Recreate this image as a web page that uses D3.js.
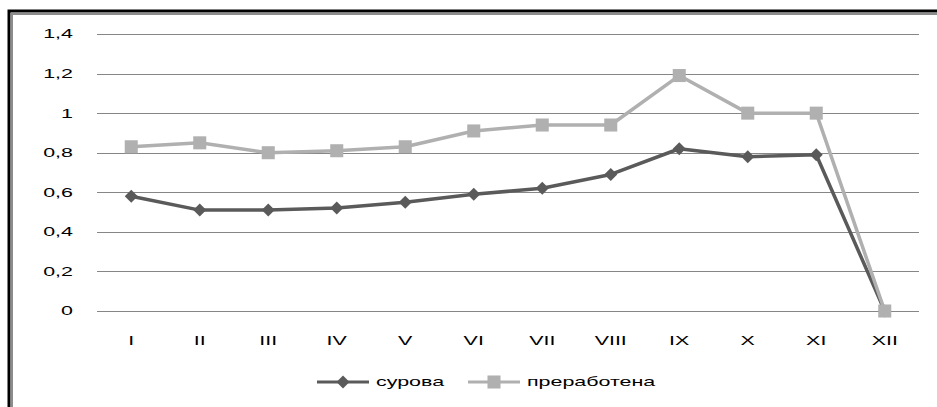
<!DOCTYPE html>
<html><head><meta charset="utf-8">
<script src="https://cdn.jsdelivr.net/npm/d3@7"></script>
<style>html,body{margin:0;padding:0;background:#fff;}svg{display:block;}</style>
</head><body>
<svg id="c" width="937" height="407"></svg>
<script>
const categories = ["I","II","III","IV","V","VI","VII","VIII","IX","X","XI","XII"];
const surova = [0.58,0.51,0.51,0.52,0.55,0.59,0.62,0.69,0.82,0.78,0.79,0];
const prerabotena = [0.83,0.85,0.80,0.81,0.83,0.91,0.94,0.94,1.19,1.0,1.0,0];
const yTicks = [0,0.2,0.4,0.6,0.8,1.0,1.2,1.4];
const seriesNames = ["сурова","преработена"];

const svg = d3.select("#c");
const SX = 1.65;
const font = "'Liberation Sans', Arial, sans-serif";
const fmt = v => d3.format(".1f")(v).replace(".", ",").replace(/,0$/, "");

// border (cropped frame)
svg.append("rect").attr("x",9).attr("y",11).attr("width",1000).attr("height",1000)
  .attr("fill","none").attr("stroke","#000").attr("stroke-width",3);
svg.append("rect").attr("x",12).attr("y",14).attr("width",1000).attr("height",1000)
  .attr("fill","none").attr("stroke","#8c8c8c").attr("stroke-width",2);

const x = d3.scaleBand().domain(categories).range([97,919]);
const y = d3.scaleLinear().domain([0,1.4]).range([311,34]);

// gridlines
svg.append("g").selectAll("line").data(yTicks).join("line")
  .attr("x1",97).attr("x2",919)
  .attr("y1",d=>Math.round(y(d))+0.5).attr("y2",d=>Math.round(y(d))+0.5)
  .attr("stroke","#868686").attr("stroke-width",1);

function stext(g, tx, ty, str, anchor, size){
  g.append("text").attr("transform",`translate(${tx},${ty}) scale(${SX},1)`)
   .attr("text-anchor",anchor).attr("dominant-baseline","central")
   .attr("font-family",font).attr("font-size",size).attr("fill","#000").text(str);
}
const lab = svg.append("g");
yTicks.forEach(t => stext(lab, 73, y(t), fmt(t), "end", 13));
categories.forEach(c => stext(lab, x(c)+x.bandwidth()/2, 341, c, "middle", 13));

const cx = d => x(d)+x.bandwidth()/2;
const line = d3.line().x((d,i)=>cx(categories[i])).y(d=>y(d));

const colS = "#5a5a5a", colP = "#b0b0b0";
const sq = d3.symbol().type(d3.symbolSquare).size(170);
const diamondPath = "M0,-6.5L6.5,0L0,6.5L-6.5,0Z";

svg.append("path").datum(surova).attr("d",line).attr("fill","none")
  .attr("stroke",colS).attr("stroke-width",3.5).attr("stroke-linejoin","round");
svg.append("g").selectAll("path").data(surova).join("path")
  .attr("transform",(d,i)=>`translate(${cx(categories[i])},${y(d)})`)
  .attr("d",diamondPath).attr("fill",colS);

svg.append("path").datum(prerabotena).attr("d",line).attr("fill","none")
  .attr("stroke",colP).attr("stroke-width",3.5).attr("stroke-linejoin","round");
svg.append("g").selectAll("path").data(prerabotena).join("path")
  .attr("transform",(d,i)=>`translate(${cx(categories[i])},${y(d)})`)
  .attr("d",sq).attr("fill",colP);

// legend
const lg = svg.append("g");
const ly = 382;
lg.append("line").attr("x1",317).attr("x2",369).attr("y1",ly).attr("y2",ly).attr("stroke",colS).attr("stroke-width",3);
lg.append("path").attr("transform",`translate(343,${ly})`).attr("d",diamondPath).attr("fill",colS);
stext(lg, 376, ly, seriesNames[0], "start", 13);
lg.append("line").attr("x1",468).attr("x2",520).attr("y1",ly).attr("y2",ly).attr("stroke",colP).attr("stroke-width",3);
lg.append("path").attr("transform",`translate(494,${ly})`).attr("d",sq).attr("fill",colP);
stext(lg, 527, ly, seriesNames[1], "start", 13);
</script>
</body></html>
